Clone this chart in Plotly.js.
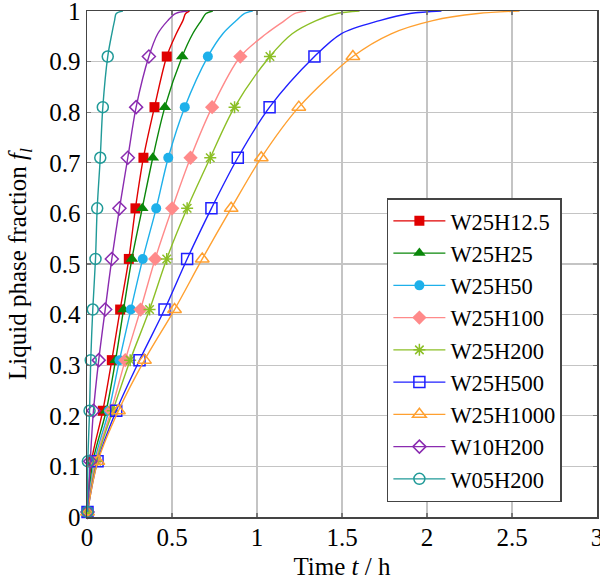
<!DOCTYPE html>
<html>
<head>
<meta charset="utf-8">
<script src="https://cdn.plot.ly/plotly-3.0.1.min.js"></script>
<style>html,body{margin:0;padding:0;background:#fff;}#chart{width:600px;height:585px;}</style>
</head>
<body>
<div id="chart"></div>
<script>
// Liquid fraction levels where markers are drawn
const fMarks = [0.01, 0.11, 0.21, 0.31, 0.41, 0.51, 0.61, 0.71, 0.81, 0.91];
// Extra levels read along the curves near the top (no markers there)
const fTop = [0.955, 0.981, 0.995, 1];

const seriesNames = ["W25H12.5", "W25H25", "W25H50", "W25H100", "W25H200", "W25H500", "W25H1000", "W10H200", "W05H200"];

// Time (h) at each marker level
const tW25H12_5 = [0.003, 0.026, 0.093, 0.146, 0.195, 0.246, 0.285, 0.332, 0.397, 0.469];
const tW25H25   = [0.003, 0.035, 0.113, 0.168, 0.215, 0.264, 0.325, 0.387, 0.458, 0.560];
const tW25H50   = [0.003, 0.044, 0.128, 0.191, 0.258, 0.328, 0.407, 0.478, 0.575, 0.711];
const tW25H100  = [0.003, 0.050, 0.142, 0.225, 0.315, 0.401, 0.501, 0.609, 0.736, 0.902];
const tW25H200  = [0.003, 0.056, 0.152, 0.254, 0.368, 0.469, 0.589, 0.725, 0.868, 1.076];
const tW25H500  = [0.003, 0.062, 0.172, 0.309, 0.456, 0.589, 0.732, 0.887, 1.074, 1.338];
const tW25H1000 = [0.003, 0.064, 0.185, 0.338, 0.515, 0.678, 0.848, 1.025, 1.246, 1.564];
const tW10H200  = [0.003, 0.019, 0.038, 0.069, 0.107, 0.146, 0.191, 0.240, 0.289, 0.364];
const tW05H200  = [0.003, 0.005, 0.015, 0.022, 0.034, 0.050, 0.060, 0.078, 0.093, 0.122];

// Time (h) at the top levels (fTop)
const topW25H12_5 = [0.525, 0.564, 0.580, 0.603];
const topW25H25   = [0.622, 0.672, 0.700, 0.740];
const topW25H50   = [0.799, 0.878, 0.925, 0.975];
const topW25H100  = [1.054, 1.162, 1.220, 1.289];
const topW25H200  = [1.207, 1.348, 1.470, 1.603];
const topW25H500  = [1.495, 1.721, 1.900, 2.085];
const topW25H1000 = [1.789, 2.034, 2.300, 2.544];
const topW10H200  = [0.416, 0.475, 0.520, 0.593];
const topW05H200  = [0.146, 0.162, 0.172, 0.211];

const xTickVals = [0, 0.5, 1, 1.5, 2, 2.5, 3];
const xTickText = ["0", "0.5", "1", "1.5", "2", "2.5", "3"];
const yTickVals = [0, 0.1, 0.2, 0.3, 0.4, 0.5, 0.6, 0.7, 0.8, 0.9, 1];
const yTickText = ["0", "0.1", "0.2", "0.3", "0.4", "0.5", "0.6", "0.7", "0.8", "0.9", "1"];

const markTimes = [tW25H12_5, tW25H25, tW25H50, tW25H100, tW25H200, tW25H500, tW25H1000, tW10H200, tW05H200];
const topTimes = [topW25H12_5, topW25H25, topW25H50, topW25H100, topW25H200, topW25H500, topW25H1000, topW10H200, topW05H200];

const colors = ["#e00000", "#0a870a", "#1eb0ea", "#ff8a8a", "#8cbf26", "#1f1fff", "#ffa030", "#8a2bb0", "#209a98"];
const symbols = ["square", "triangle-up", "circle", "diamond", "asterisk-open", "square-open", "triangle-up-open", "diamond-open", "circle-open"];
const sizes = [10, 11, 10, 11, 10, 11, 12, 10, 11];

const FONT = "'Liberation Serif', 'Times New Roman', 'DejaVu Serif', serif";
const FS = 25;

const traces = seriesNames.map((name, i) => {
  const x = markTimes[i].concat(topTimes[i]);
  const y = fMarks.concat(fTop);
  const clear = "rgba(0,0,0,0)";
  const mc = fMarks.map(() => colors[i]).concat(fTop.map(() => clear));
  const isOpen = symbols[i].indexOf("open") >= 0;
  return {
    type: "scatter",
    mode: "lines+markers",
    name: name,
    x: x,
    y: y,
    line: {color: colors[i], width: 1.4, shape: "spline", smoothing: 0.9},
    marker: {
      symbol: symbols[i], color: mc, size: sizes[i], opacity: 1,
      line: {width: isOpen ? 1.5 : 0, color: mc}
    },
    cliponaxis: false
  };
});

const axisCommon = {
  showgrid: true, gridcolor: "#c4c4c4", gridwidth: 1.3,
  zeroline: false, showline: true, linecolor: "#444", linewidth: 1.5, mirror: "ticks",
  ticks: "inside", ticklen: 4, tickcolor: "#777", tickwidth: 1.2,
  tickmode: "array", ticklabeloverflow: "allow",
  tickfont: {family: FONT, size: FS, color: "#000"}
};

const layout = {
  width: 600,
  height: 585,
  margin: {l: 87, r: 3, t: 11, b: 68},
  paper_bgcolor: "#ffffff",
  plot_bgcolor: "#ffffff",
  font: {family: FONT, size: FS, color: "#000"},
  showlegend: true,
  legend: {
    x: 0.588, y: 0.63, xanchor: "left", yanchor: "top",
    bgcolor: "#ffffff", bordercolor: "#444", borderwidth: 1.5,
    font: {family: FONT, size: 22.5, color: "#000"},
    itemwidth: 52, tracegroupgap: 0
  },
  xaxis: Object.assign({}, axisCommon, {
    range: [0, 3], tickvals: xTickVals, ticktext: xTickText,
    ticklabelstandoff: -3,
    title: {text: "Time <i>t</i> / h", font: {family: FONT, size: FS, color: "#000"}, standoff: 8}
  }),
  yaxis: Object.assign({}, axisCommon, {
    range: [0, 1], tickvals: yTickVals, ticktext: yTickText,
    title: {text: "Liquid phase fraction <i>f</i><sub><i>l</i></sub>", font: {family: FONT, size: FS, color: "#000"}, standoff: 15}
  })
};

Plotly.newPlot("chart", traces, layout, {staticPlot: true, displayModeBar: false});
</script>
</body>
</html>
